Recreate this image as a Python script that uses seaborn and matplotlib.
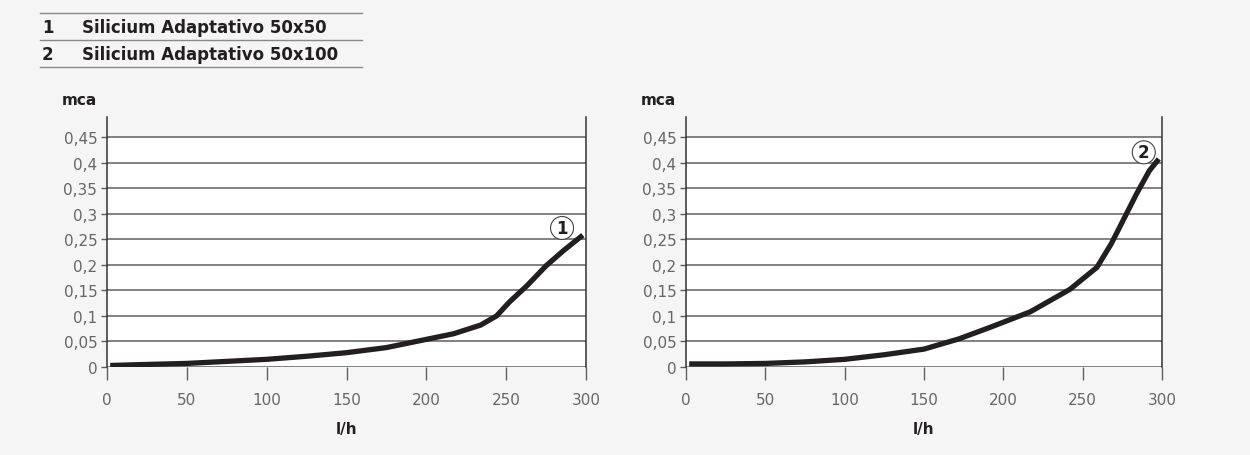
import numpy as np
import pandas as pd
import seaborn as sns
import matplotlib.pyplot as plt

plt.rc('font', family='DejaVu Sans')

# curve 1: Silicium Adaptativo 50x50
flow1 = [2, 25, 50, 75, 100, 125, 150, 175, 196, 217, 234, 244, 252, 263, 275, 286, 298]
head1 = [0.003, 0.005, 0.007, 0.011, 0.015, 0.021, 0.028, 0.038, 0.0515, 0.065, 0.082,
         0.100, 0.127, 0.159, 0.198, 0.228, 0.258]
# curve 2: Silicium Adaptativo 50x100
flow2 = [2, 25, 50, 75, 100, 125, 150, 172, 192, 217, 242, 259, 268, 276, 284, 292, 298]
head2 = [0.006, 0.006, 0.007, 0.010, 0.015, 0.024, 0.035, 0.055, 0.078, 0.108, 0.152,
         0.195, 0.241, 0.290, 0.339, 0.384, 0.407]

names = ['Silicium Adaptativo 50x50', 'Silicium Adaptativo 50x100']
xticks = [0, 50, 100, 150, 200, 250, 300]
yticks = [0, 0.05, 0.1, 0.15, 0.2, 0.25, 0.3, 0.35, 0.4, 0.45]
ytick_labels = ['0', '0,05', '0,1', '0,15', '0,2', '0,25', '0,3', '0,35', '0,4', '0,45']

bg = '#f5f5f5'
ink = '#231f20'
grey = '#5f5f5f'

fig = plt.figure(figsize=(12.5, 4.56), dpi=100, facecolor=bg)

# header table
for i, name in enumerate(names):
    y = 1 - (28 + 27 * i) / 456
    fig.text(42 / 1250, y, str(i + 1), fontsize=12, fontweight='bold', color=ink, va='center')
    fig.text(82 / 1250, y, name, fontsize=12, fontweight='bold', color=ink, va='center')
for yl in [14, 41, 68]:
    fig.add_artist(plt.Line2D([40 / 1250, 362 / 1250], [1 - yl / 456] * 2, color='#888888', lw=1.0))

panels = [
    (107, 479, flow1, head1, '1', (285, 0.272)),
    (686, 476, flow2, head2, '2', (288.5, 0.42)),
]

for left, width, fx, hy, tag, pos in panels:
    ax = fig.add_axes([left / 1250, (456 - 368) / 456, width / 1250, 250 / 456])
    ax.set_facecolor(bg)
    ax.axhspan(0, 0.45, color='white', zorder=0)
    for t in yticks:
        ax.axhline(t, color=grey, lw=1.1, zorder=1)
    df = pd.DataFrame({'l/h': fx, 'mca': hy})
    sns.lineplot(data=df, x='l/h', y='mca', ax=ax, color=ink, lw=3.8, zorder=3,
                 solid_capstyle='butt', solid_joinstyle='round')
    ax.set_xlim(0, 300)
    ax.set_ylim(0, 0.45 * 250 / 230)
    ax.set_xticks(xticks)
    ax.set_xticklabels([str(t) for t in xticks])
    ax.set_yticks(yticks)
    ax.set_yticklabels(ytick_labels)
    ax.tick_params(axis='x', length=9, width=1, color=grey, pad=9, labelsize=11, labelcolor='#666666')
    ax.tick_params(axis='y', length=4, width=1, color=grey, pad=3, labelsize=11, labelcolor='#666666')
    for s in ['top', 'bottom']:
        ax.spines[s].set_visible(False)
    for s in ['left', 'right']:
        ax.spines[s].set_color('#333333')
        ax.spines[s].set_linewidth(1.1)
    ax.set_xlabel('l/h', fontsize=11, fontweight='bold', color=ink, labelpad=10)
    ax.set_ylabel('')
    ax.text(-0.095, 1.07, 'mca', transform=ax.transAxes, fontsize=11, fontweight='bold',
            color=ink, ha='left', va='center')
    ax.text(pos[0], pos[1], tag, fontsize=12, fontweight='bold', color=ink, ha='center', va='center',
            zorder=4, bbox=dict(boxstyle='circle,pad=0.15', fc='white', ec='#444444', lw=0.8))

fig.savefig('out.png', dpi=100, facecolor=bg)
